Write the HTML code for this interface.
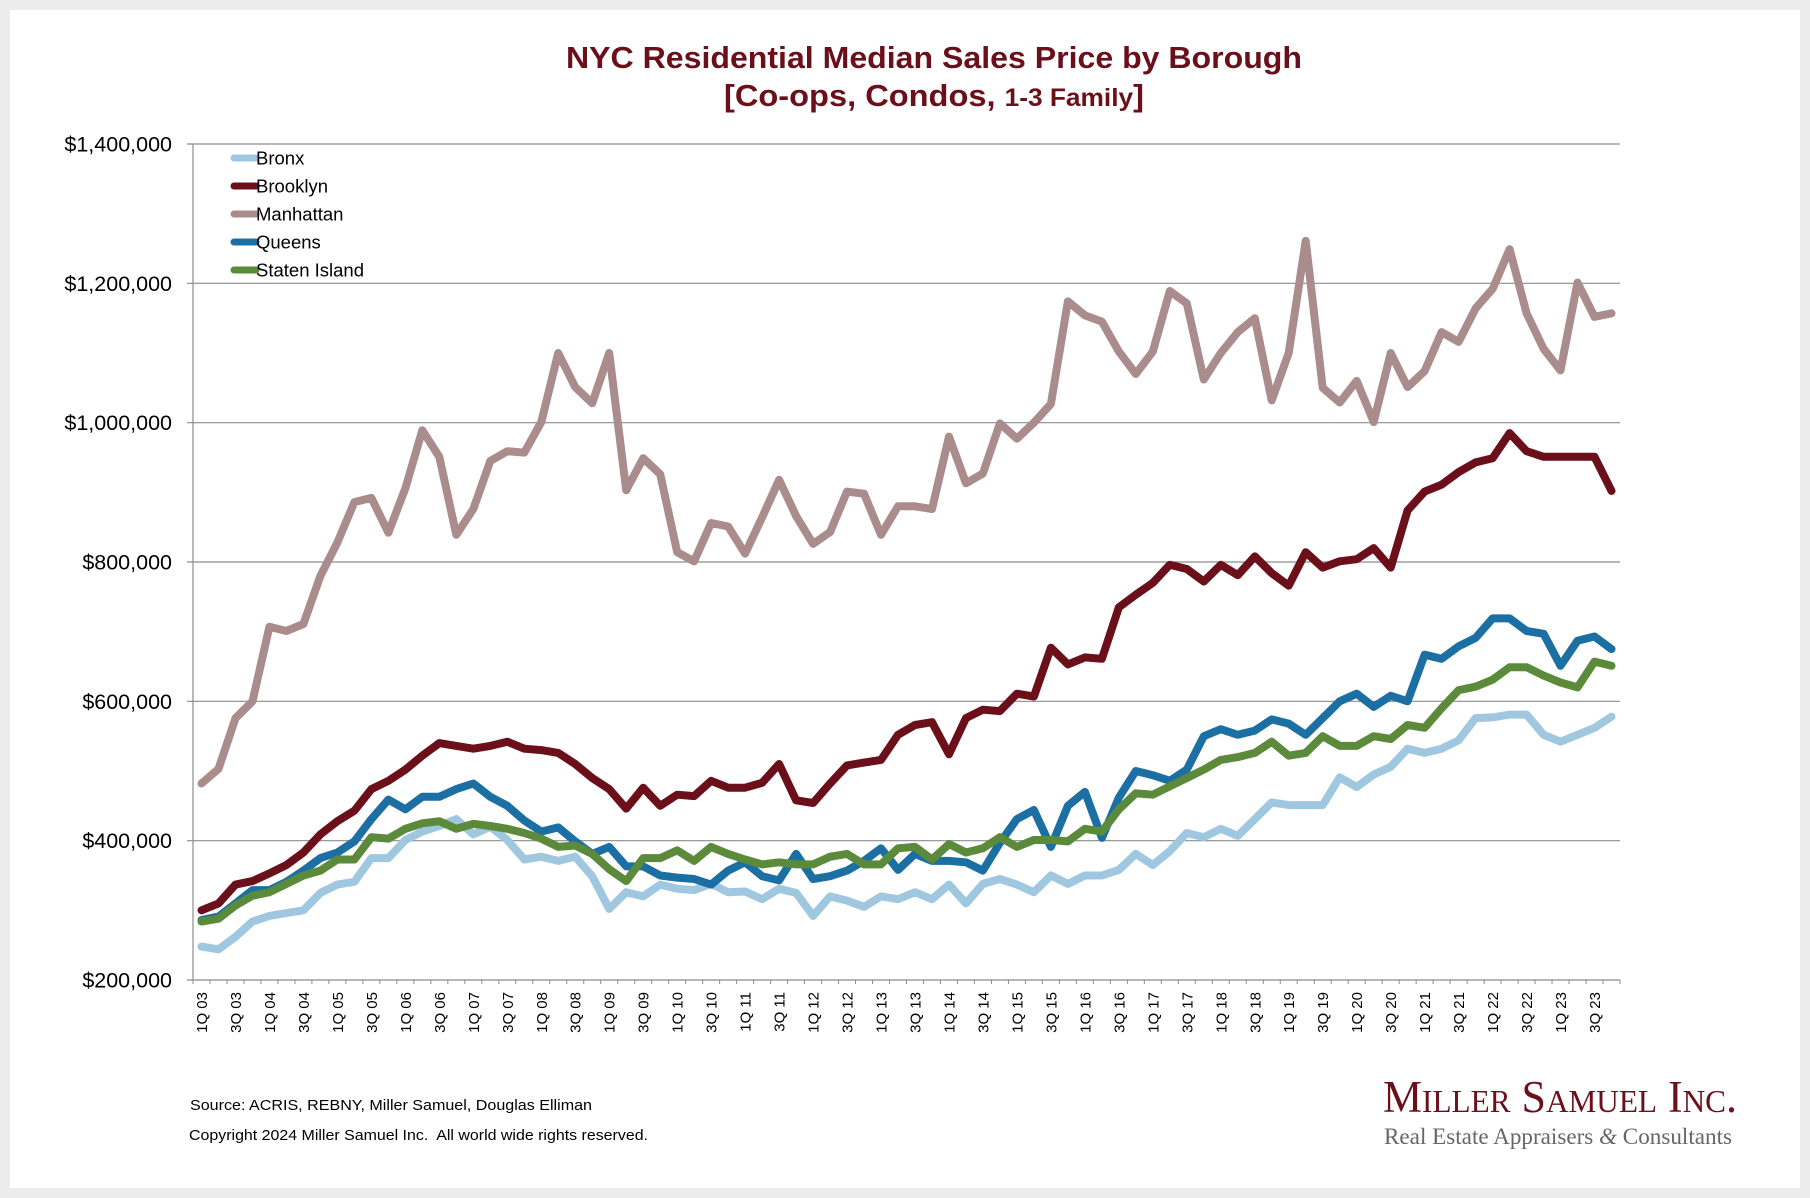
<!DOCTYPE html>
<html><head><meta charset="utf-8">
<style>
html,body{margin:0;padding:0;background:#ececec;}
#frame{position:absolute;left:10px;top:10px;width:1790px;height:1178px;background:#fff;}
svg{position:absolute;left:0;top:0;}
</style></head>
<body>
<div id="frame"></div>
<svg id="chart" width="1810" height="1198"
 font-family="'Liberation Sans', Arial, sans-serif">
  <g fill="#6b0f1a" font-weight="bold" text-anchor="middle">
    <text x="934" y="68" font-size="31" textLength="736" lengthAdjust="spacingAndGlyphs">NYC Residential Median Sales Price by Borough</text>
    <text x="934" y="106" font-size="31" textLength="420" lengthAdjust="spacingAndGlyphs">[Co-ops, Condos, <tspan font-size="25">1-3 Family</tspan>]</text>
  </g>
  <g id="grid"></g>
  <g id="yaxis"></g>
  <g id="xaxis"></g>
  <g id="series"></g>
  <g id="legend"></g>
  <g font-size="15" fill="#000">
    <text x="190" y="1110" textLength="402" lengthAdjust="spacingAndGlyphs">Source: ACRIS, REBNY, Miller Samuel, Douglas Elliman</text>
    <text x="189" y="1140" textLength="459" lengthAdjust="spacingAndGlyphs" xml:space="preserve">Copyright 2024 Miller Samuel Inc.  All world wide rights reserved.</text>
  </g>
  <g font-family="'Liberation Serif', serif">
    <text x="1383" y="1112" font-size="45" fill="#6b0f1a" style="font-variant:small-caps" textLength="354" lengthAdjust="spacingAndGlyphs">Miller Samuel Inc.</text>
    <text x="1384" y="1144" font-size="23" fill="#666" textLength="348" lengthAdjust="spacingAndGlyphs">Real Estate Appraisers <tspan font-style="italic">&amp;</tspan> Consultants</text>
  </g>
</svg>
<script>
const quarters = [];
for (let y = 3; y <= 23; y++) for (let q = 1; q <= 4; q++) quarters.push(q + 'Q ' + String(y).padStart(2, '0'));
const yTicks = [200000, 400000, 600000, 800000, 1000000, 1200000, 1400000];
const seriesNames = ['Bronx', 'Brooklyn', 'Manhattan', 'Queens', 'Staten Island'];
const seriesColors = ['#9fc8e0', '#6b0f1a', '#aa8c8c', '#1b6fa3', '#5b8a3b'];
const bronx = [248,244,262,284,292,296,300,325,337,341,375,375,401,413,421,431,409,420,401,373,377,371,377,349,302,326,320,337,331,329,338,326,327,316,331,325,292,320,314,305,320,316,326,316,337,310,338,345,337,326,350,338,350,350,358,381,365,385,411,405,417,407,431,455,451,451,451,491,477,495,506,532,526,532,544,576,577,581,581,552,542,552,562,578];
const brooklyn = [300,310,337,342,353,365,383,409,428,443,474,486,502,522,540,536,532,536,542,532,530,526,510,490,474,446,476,450,466,464,486,476,476,483,510,458,454,482,508,512,516,552,566,570,524,576,588,586,611,607,677,653,663,661,735,753,770,796,790,772,796,781,808,784,766,814,792,801,804,820,792,874,901,911,929,943,949,985,959,951,951,951,951,902];
const manhattan = [482,503,576,600,707,701,711,780,828,886,892,842,906,989,951,839,876,945,959,957,1001,1100,1051,1028,1100,903,949,926,814,801,856,851,812,864,918,866,826,843,901,898,839,880,880,876,980,913,927,999,977,1000,1027,1174,1154,1145,1102,1070,1102,1189,1171,1062,1100,1130,1150,1032,1100,1261,1050,1029,1060,1001,1100,1051,1074,1130,1116,1164,1192,1249,1157,1106,1075,1201,1152,1157];
const queens = [286,291,310,329,329,341,357,375,383,399,431,459,445,463,463,474,482,463,450,429,413,419,399,381,391,363,363,350,347,345,337,357,369,349,343,381,345,349,357,371,389,358,381,371,371,369,357,397,431,444,391,450,470,404,462,500,494,486,502,550,560,552,558,574,568,552,576,600,611,592,608,600,667,661,679,691,719,719,701,697,701,651,687,693].slice(0,84);
queens[83] = 675; queens[82] = 693; queens[81] = 687; queens[80] = 651;
const staten = [284,288,307,321,326,338,350,357,373,373,405,403,417,425,428,417,424,421,417,411,403,391,393,381,359,342,375,375,386,371,391,381,373,366,369,366,366,377,381,366,366,389,391,373,395,383,389,405,391,401,401,399,417,413,445,468,466,478,490,502,516,520,526,542,522,526,550,536,536,550,546,566,562,590,616,621,631,649,649,637,627,620,657,651];
const seriesData = [bronx, brooklyn, manhattan, queens, staten];

const NS = 'http://www.w3.org/2000/svg';
const L = 193, R = 1620, T = 144, B = 980;
const yMin = 200000, yMax = 1400000;
const band = (R - L) / quarters.length;
function xPos(i) { return L + band * (i + 0.5); }
function yPos(v) { return B - (v - yMin) / (yMax - yMin) * (B - T); }
function mk(tag, attrs, parent) { const e = document.createElementNS(NS, tag); for (const k in attrs) e.setAttribute(k, attrs[k]); parent.appendChild(e); return e; }

const grid = document.getElementById('grid');
const yaxis = document.getElementById('yaxis');
yTicks.forEach(v => {
  const y = yPos(v);
  if (v > yMin) {
    const gl = mk('line', {x1: L - 6, x2: R, y1: y, y2: y, stroke: '#8c8c8c', 'stroke-width': 1.2}, grid);
    
    
  }
  const t = mk('text', {x: 172, y: y + 7.5, 'text-anchor': 'end', 'font-size': 21.5, fill: '#000'}, yaxis);
  t.textContent = '$' + v.toLocaleString('en-US');
  
  
});
const ya = mk('line', {x1: L, x2: L, y1: T, y2: B, stroke: '#8c8c8c', 'stroke-width': 1.2}, yaxis);



const xaxis = document.getElementById('xaxis');
const xa = mk('line', {x1: L - 6, x2: R, y1: B, y2: B, stroke: '#8c8c8c', 'stroke-width': 1.2}, xaxis);


for (let i = 0; i <= quarters.length; i++) {
  const tx = L + band * i;
  const tk = mk('line', {x1: tx, x2: tx, y1: B, y2: B + 4, stroke: '#8c8c8c', 'stroke-width': 1}, xaxis);
  
  
}
quarters.forEach((q, i) => {
  if (i % 2) return;
  const x = xPos(i) + 5.5, y = 992;
  const t = mk('text', {x: x, y: y, 'text-anchor': 'end', 'font-size': 15, fill: '#000', transform: `rotate(-90 ${x} ${y})`}, xaxis);
  t.textContent = q;
  
  
});

const sg = document.getElementById('series');
seriesData.forEach((d, s) => {
  const pts = d.map((v, i) => xPos(i).toFixed(1) + ',' + yPos(v * 1000).toFixed(1)).join(' ');
  const pl = mk('polyline', {points: pts, fill: 'none', stroke: seriesColors[s], 'stroke-width': 8, 'stroke-linejoin': 'round', 'stroke-linecap': 'round'}, sg);
  
  
});

const lg = document.getElementById('legend');
seriesNames.forEach((n, s) => {
  const y = 158 + s * 28;
  const sw = mk('line', {x1: 234, x2: 256, y1: y, y2: y, stroke: seriesColors[s], 'stroke-width': 7, 'stroke-linecap': 'round'}, lg);
  
  
  const t = mk('text', {x: 256, y: y + 6.5, 'font-size': 18.5, fill: '#000'}, lg);
  t.textContent = n;
  
  
});
</script>
</body></html>
